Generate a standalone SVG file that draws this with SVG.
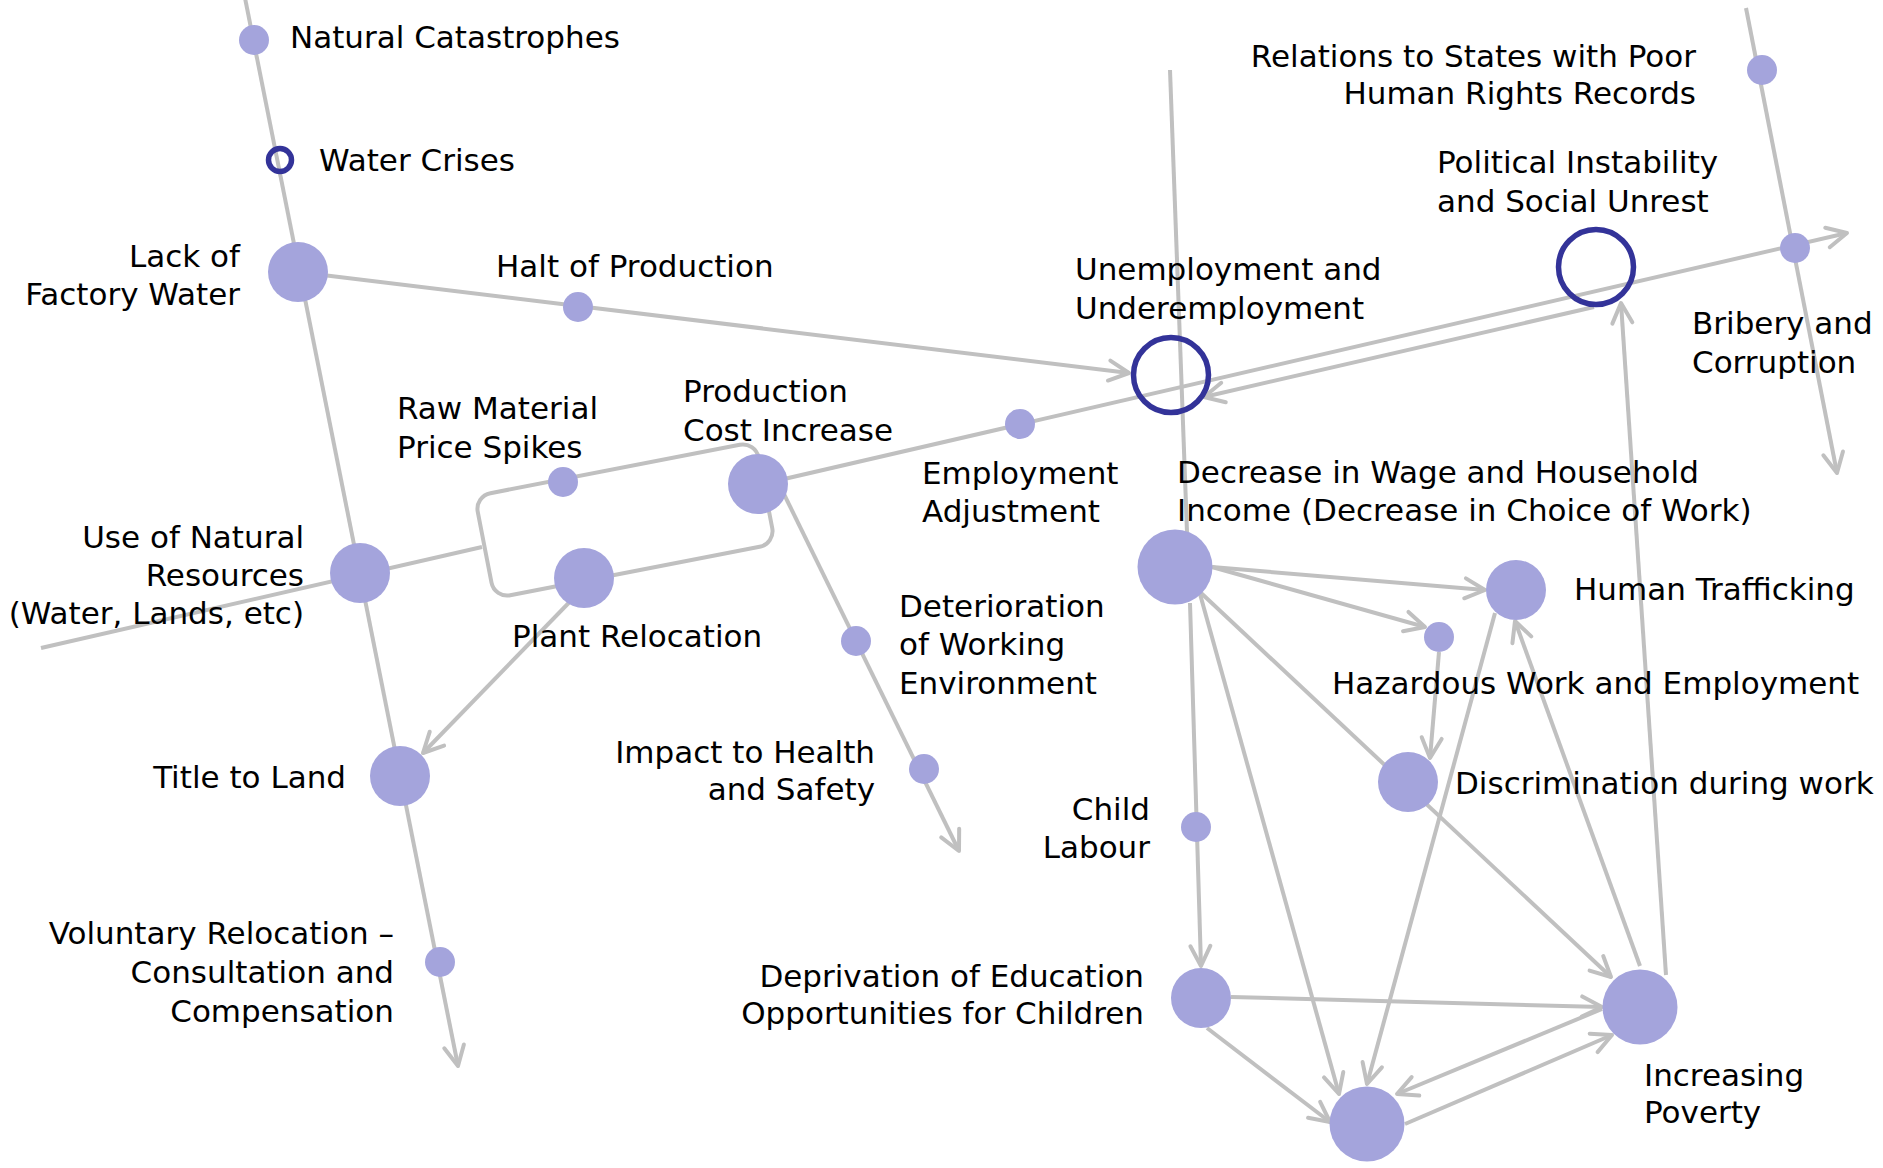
<svg xmlns="http://www.w3.org/2000/svg" width="1883" height="1168" viewBox="0 0 1883 1168">
<style>
.bg{fill:#ffffff}
.c{fill:none;stroke:#c0c0c0;stroke-width:4}
.a{marker-end:url(#arr)}
.n{fill:#a4a4dc}
.r{fill:none;stroke:#333399;stroke-width:5.5}
text{font-family:"DejaVu Sans","Verdana",sans-serif;font-size:31px;fill:#000}
.e{text-anchor:end}
</style>
<defs>
<marker id="arr" viewBox="-3 -3 27 26" markerWidth="27" markerHeight="26" refX="20" refY="10" orient="auto" markerUnits="userSpaceOnUse" overflow="visible">
<path d="M0,0 L20,10 L0,20" fill="none" stroke="#c0c0c0" stroke-width="4" stroke-linecap="round" stroke-linejoin="round"/>
</marker>
</defs>
<rect class="bg" x="0" y="0" width="1883" height="1168"/>
<g id="connectors">
<path class="c a" d="M245,-2 L458,1066"/>
<path class="c a" d="M298,272 L1129,373"/>
<path class="c" d="M41,648 L482,547"/>
<rect class="c" x="-143" y="-52" width="286" height="104" rx="16" transform="translate(625,520) rotate(-11)"/>
<path class="c a" d="M758,485 L1847,233"/>
<path class="c a" d="M1594,307 L1204,397"/>
<path class="c a" d="M1666,975 L1621,303"/>
<path class="c" d="M1170,70 L1187,532"/>
<path class="c a" d="M1746,8 L1837,473"/>
<path class="c a" d="M780,486 L959,851"/>
<path class="c a" d="M590,581 L423,753"/>
<path class="c a" d="M1212,567 L1485,590"/>
<path class="c a" d="M1212,567 L1425,627"/>
<path class="c a" d="M1200,594 L1339,1094"/>
<path class="c a" d="M1200,592 L1611,977"/>
<path class="c a" d="M1190,603 L1201,966"/>
<path class="c a" d="M1439,652 L1430,758"/>
<path class="c a" d="M1495,613 L1367,1084"/>
<path class="c a" d="M1640,966 L1515,621"/>
<path class="c a" d="M1231,997 L1602,1007"/>
<path class="c a" d="M1207,1028 L1330,1122"/>
<path class="c a" d="M1602,1009 L1397,1094"/>
<path class="c a" d="M1405,1124 L1612,1035"/>
</g>
<g id="n-natural-catastrophes"><circle class="n" cx="254" cy="40" r="15"/><text x="290" y="48">Natural Catastrophes</text></g>
<g id="n-water-crises"><circle class="r" cx="280" cy="160" r="11.5"/><text x="319" y="171">Water Crises</text></g>
<g id="n-lack-factory-water"><circle class="n" cx="298" cy="272" r="30"/><text class="e" x="240" y="267">Lack of</text><text class="e" x="240" y="305">Factory Water</text></g>
<g id="n-halt-production"><circle class="n" cx="578" cy="307" r="15"/><text x="496" y="277">Halt of Production</text></g>
<g id="n-raw-material"><circle class="n" cx="563" cy="482" r="15"/><text x="397" y="419">Raw Material</text><text x="397" y="458">Price Spikes</text></g>
<g id="n-production-cost"><circle class="n" cx="758" cy="484" r="30"/><text x="683" y="402">Production</text><text x="683" y="441">Cost Increase</text></g>
<g id="n-use-natural-resources"><circle class="n" cx="360" cy="573" r="30"/><text class="e" x="304" y="548">Use of Natural</text><text class="e" x="304" y="586">Resources</text><text class="e" x="304" y="624">(Water, Lands, etc)</text></g>
<g id="n-plant-relocation"><circle class="n" cx="584" cy="578" r="30"/><text x="512" y="647">Plant Relocation</text></g>
<g id="n-title-to-land"><circle class="n" cx="400" cy="776" r="30"/><text class="e" x="346" y="788">Title to Land</text></g>
<g id="n-voluntary-relocation"><circle class="n" cx="440" cy="962" r="15"/><text class="e" x="394" y="944">Voluntary Relocation –</text><text class="e" x="394" y="983">Consultation and</text><text class="e" x="394" y="1022">Compensation</text></g>
<g id="n-employment-adjustment"><circle class="n" cx="1020" cy="424" r="15"/><text x="922" y="484">Employment</text><text x="922" y="522">Adjustment</text></g>
<g id="n-unemployment"><circle class="r" cx="1171" cy="375" r="37.5"/><text x="1075" y="280">Unemployment and</text><text x="1075" y="319">Underemployment</text></g>
<g id="n-political-instability"><circle class="r" cx="1596" cy="267" r="37.5"/><text x="1437" y="173">Political Instability</text><text x="1437" y="212">and Social Unrest</text></g>
<g id="n-relations-states"><circle class="n" cx="1762" cy="70" r="15"/><text class="e" x="1696" y="67">Relations to States with Poor</text><text class="e" x="1696" y="104">Human Rights Records</text></g>
<g id="n-bribery"><circle class="n" cx="1795" cy="248" r="15"/><text x="1692" y="334">Bribery and</text><text x="1692" y="373">Corruption</text></g>
<g id="n-decrease-wage"><circle class="n" cx="1175" cy="567" r="37.5"/><text x="1177" y="483">Decrease in Wage and Household</text><text x="1177" y="521">Income (Decrease in Choice of Work)</text></g>
<g id="n-deterioration"><circle class="n" cx="856" cy="641" r="15"/><text x="899" y="617">Deterioration</text><text x="899" y="655">of Working</text><text x="899" y="694">Environment</text></g>
<g id="n-impact-health"><circle class="n" cx="924" cy="769" r="15"/><text class="e" x="875" y="763">Impact to Health</text><text class="e" x="875" y="800">and Safety</text></g>
<g id="n-human-trafficking"><circle class="n" cx="1516" cy="590" r="30"/><text x="1574" y="600">Human Trafficking</text></g>
<g id="n-hazardous-work"><circle class="n" cx="1439" cy="637" r="15"/><text x="1332" y="694">Hazardous Work and Employment</text></g>
<g id="n-discrimination"><circle class="n" cx="1408" cy="782" r="30"/><text x="1455" y="794">Discrimination during work</text></g>
<g id="n-child-labour"><circle class="n" cx="1196" cy="827" r="15"/><text class="e" x="1150" y="820">Child</text><text class="e" x="1150" y="858">Labour</text></g>
<g id="n-deprivation-education"><circle class="n" cx="1201" cy="998" r="30"/><text class="e" x="1144" y="987">Deprivation of Education</text><text class="e" x="1144" y="1024">Opportunities for Children</text></g>
<g id="n-increasing-poverty"><circle class="n" cx="1640" cy="1007" r="37.5"/><text x="1644" y="1086">Increasing</text><text x="1644" y="1123">Poverty</text></g>
<g id="n-unlabeled"><circle class="n" cx="1367" cy="1124" r="37.5"/></g>
</svg>
